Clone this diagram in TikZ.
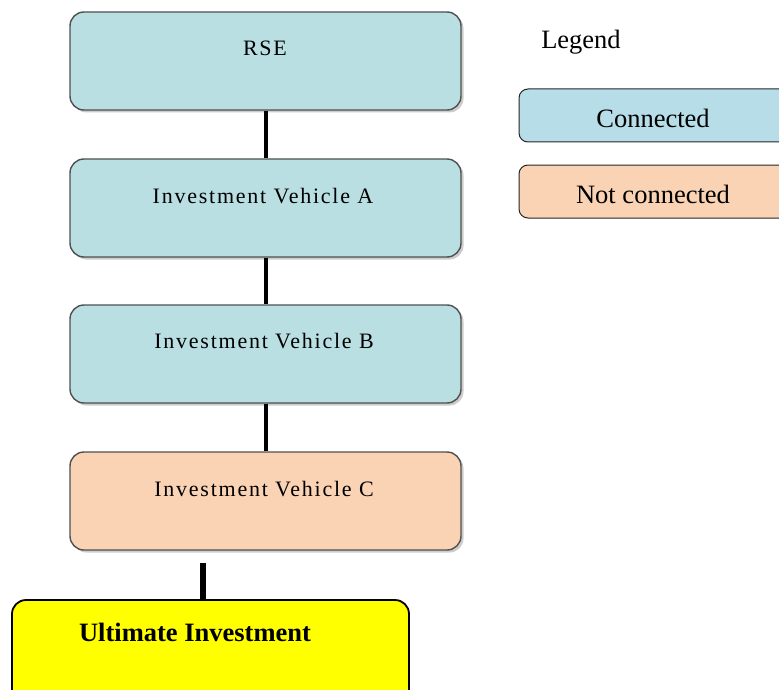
\documentclass[tikz,border=0pt]{standalone}
\usepackage{fontspec}
\setmainfont{Liberation Serif}
\newfontfamily\boxfont[LetterSpace=8]{Liberation Serif}
\definecolor{cyanfill}{HTML}{B9DFE3}
\definecolor{legcyan}{HTML}{B6DDE8}
\definecolor{peach}{HTML}{FAD3B4}
\definecolor{boxline}{HTML}{505050}
\definecolor{ultyellow}{HTML}{FFFF00}
\begin{document}
\begin{tikzpicture}[x=1pt,y=-1pt,
  mainbox/.style={draw=boxline,line width=1.4pt,rounded corners=14pt,minimum width=391pt,minimum height=98pt,inner sep=0pt},
  legbox/.style={draw=black!85,line width=1pt,rounded corners=9pt,minimum width=300pt,minimum height=53pt,inner sep=0pt},
  boxtext/.style={font=\boxfont\fontsize{22}{26}\selectfont,inner sep=0pt},
  legtext/.style={font=\fontsize{26.5}{30}\selectfont,inner sep=0pt},
  link/.style={line width=4pt,black}]
\useasboundingbox (0,0) rectangle (779,690);
\clip (0,0) rectangle (779,690);
% shadows
\foreach \yy in {61,208,354,501}{
  \fill[black!20,rounded corners=14pt] (72.5,\yy-46.5) rectangle ++(391,98);
}
\node[mainbox,fill=cyanfill] (rse) at (265.5,61) {};
\node[mainbox,fill=cyanfill] (va) at (265.5,208) {};
\node[mainbox,fill=cyanfill] (vb) at (265.5,354) {};
\node[mainbox,fill=peach] (vc) at (265.5,501) {};
\node[boxtext] (trse) at (265,48) {RSE};
\node[boxtext] (tva) at (263,196) {Investment Vehicle\ A};
\node[boxtext] (tvb) at (264,341) {Investment Vehicle\ B};
\node[boxtext] (tvc) at (264,489) {Investment Vehicle\ C};
\draw[link] (rse.south) -- (va.north);
\draw[link] (va.south) -- (vb.north);
\draw[link] (vb.south) -- (vc.north);
\node[draw=black,line width=1.8pt,fill=ultyellow,rounded corners=14pt,minimum width=397pt,minimum height=120pt,inner sep=0pt] (ult) at (210.5,660) {};
\node[font=\bfseries\fontsize{26.5}{30}\selectfont,inner sep=0pt] (tult) at (195,632) {Ultimate Investment};
\coordinate (cend) at (203,563);
\draw[line width=6pt] (cend) -- (cend |- ult.north);
% legend
\node[legtext] (leg) at (581,42) {Legend};
\node[legbox,fill=legcyan] (lc) at (669,115.5) {};
\node[legbox,fill=peach] (ln) at (669,191.5) {};
\node[legtext] (tlc) at (653,118) {Connected};
\node[legtext] (tln) at (653,194) {Not connected};
\end{tikzpicture}
\end{document}
